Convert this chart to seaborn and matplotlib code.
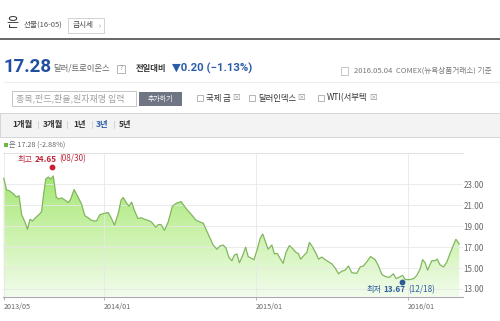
import numpy as np
import pandas as pd
import matplotlib
matplotlib.use("Agg")
import matplotlib.pyplot as plt
import seaborn as sns
import matplotlib.dates as mdates
from matplotlib.patches import Rectangle
from matplotlib.colors import LinearSegmentedColormap

# ---------------- data ----------------
start_date = "2013-05-06"
day_offsets = [0, 7, 13, 23, 30, 37, 43, 51, 57, 63,
               69, 79, 87, 91, 95, 101, 107, 113, 119, 126,
               131, 139, 147, 155, 161, 169, 177, 187, 195, 203,
               209, 217, 223, 231, 239, 251, 258, 266, 275, 282,
               287, 295, 301, 307, 314, 322, 331, 339, 347, 355,
               365, 371, 378, 386, 395, 405, 415, 426, 434, 442,
               451, 461, 471, 479, 487, 495, 503, 512, 519, 527,
               534, 541, 548, 554, 560, 566, 574, 581, 587, 596,
               601, 609, 616, 622, 630, 635, 644, 650, 657, 664,
               671, 678, 686, 694, 702, 708, 713, 721, 728, 734,
               742, 750, 756, 764, 772, 780, 788, 796, 804, 812,
               820, 828, 836, 848, 856, 864, 872, 881, 892, 900,
               908, 916, 926, 936, 942, 949, 958, 964, 976, 985,
               992, 1000, 1006, 1012, 1018, 1028, 1036, 1041, 1048, 1056,
               1064, 1072, 1078, 1086, 1094]
silver_price = [23.6, 22.45, 22.4, 22.1, 21.8, 21.9, 20.1, 19.4, 18.7, 19.65,
                19.5, 19.9, 20.2, 20.4, 21.8, 23.5, 23.7, 23.5, 23.8, 21.8,
                21.6, 21.7, 21.5, 21.25, 21.6, 22.5, 21.9, 21.1, 20.0, 19.8,
                19.6, 19.5, 19.5, 20.1, 20.2, 20.3, 19.8, 19.1, 20.2, 21.5,
                21.75, 21.2, 20.9, 21.3, 20.5, 19.75, 19.8, 19.65, 19.55, 19.4,
                18.9, 19.15, 19.15, 18.6, 19.4, 20.9, 21.2, 21.35, 20.9, 20.5,
                20.1, 19.6, 19.4, 19.3, 18.6, 17.9, 17.2, 16.8, 17.1, 17.2,
                16.9, 16.0, 15.7, 16.25, 16.35, 15.5, 16.2, 17.0, 16.1, 15.9,
                15.8, 16.8, 17.85, 18.25, 17.35, 16.8, 17.2, 16.35, 16.4, 15.9,
                15.45, 16.5, 17.15, 16.85, 16.5, 16.35, 15.85, 16.2, 16.5, 17.45,
                17.0, 16.4, 15.85, 16.05, 15.8, 15.6, 15.4, 15.0, 14.45, 14.7,
                14.8, 15.2, 14.55, 14.5, 15.1, 15.2, 15.6, 16.1, 15.8, 15.2,
                14.4, 14.2, 14.1, 14.45, 14.0, 14.1, 14.3, 13.9, 13.9, 14.0,
                14.3, 14.9, 15.8, 15.5, 14.8, 15.7, 15.7, 15.85, 15.3, 15.1,
                15.55, 16.4, 17.0, 17.75, 17.28]
high_date, high_value, high_label = "2013-08-30", 24.65, "(08/30)"
low_date, low_value, low_label = "2015-12-18", 13.67, "(12/18)"
y_ticks = [13, 15, 17, 19, 21, 23]
x_tick_dates = ["2013-05-06", "2014-01-01", "2015-01-01", "2016-01-01"]
x_tick_labels = ["2013/05", "2014/01", "2015/01", "2016/01"]
period_buttons = ["1개월", "3개월", "1년", "3년", "5년"]
selected_period = "3년"
compare_items = ["국제 금", "달러인덱스", "WTI(서부텍"]

# ---------------- style ----------------
sns.set_theme(style="white")
plt.rcParams["font.family"] = ["Noto Sans CJK KR", "DejaVu Sans"]

W, H = 500, 321
fig = plt.figure(figsize=(5.0, 3.21), dpi=100)
fig.patch.set_facecolor("white")

ui = fig.add_axes([0, 0, 1, 1])
ui.set_xlim(0, W)
ui.set_ylim(H, 0)
ui.axis("off")

BLUE = "#1f4f9e"
GRAY = "#666666"

# header row
ui.text(6, 24, "은", fontsize=9.5, color="#333333", va="center")
ui.text(24, 24.5, "선물(16-05)", fontsize=5.5, color="#555555", va="center")
ui.add_patch(Rectangle((68, 18), 36, 15, facecolor="white", edgecolor="#cccccc", lw=0.6))
ui.text(73, 25.5, "금시세", fontsize=5.5, color="#444444", va="center")
ui.text(98.5, 25.5, "›", fontsize=5, color="#888888", va="center")
ui.plot([0, W], [39, 39], color="#666666", lw=1.4, solid_capstyle="butt")

# price row
ui.text(3.5, 66.5, "17.28", fontsize=13.5, fontweight="bold", color=BLUE, va="center",
        family=["Roboto", "DejaVu Sans"])
ui.text(53.5, 68.5, "달러/트로이온스", fontsize=6, color=GRAY, va="center")
ui.add_patch(Rectangle((117, 64.5), 8, 8, facecolor="white", edgecolor="#aaaaaa", lw=0.6))
ui.text(121, 68.5, "?", fontsize=4.5, color="#888888", ha="center", va="center")
ui.text(136, 68.5, "전일대비", fontsize=6, fontweight="bold", color="#333333", va="center")
ui.text(172, 68.5, "▼0.20 (−1.13%)", fontsize=8.2, fontweight="bold", color="#2a5caa",
        va="center", family=["Roboto", "DejaVu Sans"])
ui.add_patch(Rectangle((341, 67), 7, 8, facecolor="white", edgecolor="#bbbbbb", lw=0.6))
ui.text(492, 71, "2016.05.04  COMEX(뉴욕상품거래소) 기준", fontsize=5.5, color="#777777",
        ha="right", va="center")
ui.plot([4, W], [82, 82], color="#eeeeee", lw=0.8)

# search row
ui.add_patch(Rectangle((12, 91), 124, 15, facecolor="white", edgecolor="#bbbbbb", lw=0.6))
ui.text(16, 98.5, "종목,펀드,환율,원자재명 입력", fontsize=6.5, color="#a0a0a0", va="center")
ui.add_patch(Rectangle((139, 92), 43, 14, facecolor="#6f7582", edgecolor="none"))
ui.text(160.5, 99, "추가하기", fontsize=5, color="white", ha="center", va="center")
cb_x = [197, 249, 318]
for cx, name in zip(cb_x, compare_items):
    ui.add_patch(Rectangle((cx, 95), 6, 6, facecolor="white", edgecolor="#aaaaaa", lw=0.6))
    t = ui.text(cx + 9, 98, name, fontsize=6, color="#333333", va="center")
    ui.annotate("⊠", xy=(1, 0.5), xycoords=t, xytext=(1.5, 0), textcoords="offset pixels",
                fontsize=5.5, color="#999999", va="center", ha="left")

# period bar
ui.add_patch(Rectangle((0, 113), W, 24, facecolor="#f3f3f3", edgecolor="#d5d5d5", lw=0.7))
period_x = [22.5, 53, 80, 102.5, 125]
for i, (px, lab) in enumerate(zip(period_x, period_buttons)):
    ui.text(px, 124.5, lab, fontsize=6, fontweight="bold",
            color="#2a5caa" if lab == selected_period else "#333333",
            ha="center", va="center")
    if i < len(period_buttons) - 1:
        sx = (px + period_x[i + 1]) / 2 + 0.5
        ui.plot([sx, sx], [121, 128], color="#cccccc", lw=0.6)

# legend
ui.add_patch(Rectangle((4, 142.5), 4, 4, facecolor="#66bb44", edgecolor="none"))
ui.text(9, 145, "은 17.28 (-2.88%)", fontsize=5.2, color=GRAY, va="center")

# ---------------- chart ----------------
ax = fig.add_axes([3 / W, 1 - 296.5 / H, 460 / W, 144 / H])
ax.set_facecolor("none")

df = pd.DataFrame({
    "date": pd.Timestamp(start_date) + pd.to_timedelta(day_offsets, unit="D"),
    "price": silver_price,
})
ymin, ymax = 12.28, 26.04
xmin = pd.Timestamp(start_date) - pd.Timedelta(days=1.7)
xmax = pd.Timestamp(start_date) + pd.Timedelta(days=1103)

sns.lineplot(data=df, x="date", y="price", ax=ax, color="#82b65e", lw=0.9, zorder=3)

poly = ax.fill_between(df["date"], df["price"], ymin, facecolor="none", edgecolor="none")
cmap = LinearSegmentedColormap.from_list("g", ["#f2fcec", "#c6f1a4", "#95e15f"])
grad = np.linspace(0, 1, 256).reshape(-1, 1)
x0n, x1n = mdates.date2num(xmin), mdates.date2num(xmax)
im = ax.imshow(grad, extent=[x0n, x1n, ymin, ymax], origin="lower", aspect="auto",
               cmap=cmap, zorder=1, interpolation="bilinear")
im.set_clip_path(poly.get_paths()[0], transform=ax.transData)

ax.set_xlim(xmin, xmax)
ax.set_ylim(ymin, ymax)

ax.yaxis.tick_right()
ax.set_yticks(y_ticks)
ax.set_yticklabels([f"{v:.2f}" for v in y_ticks])
ax.set_xticks(pd.to_datetime(x_tick_dates))
ax.set_xticklabels(x_tick_labels, ha="left")
ax.tick_params(axis="y", length=0, pad=0.5, labelsize=5.8, labelcolor="#666666")
ax.tick_params(axis="x", bottom=True, length=2.5, width=0.6, color="#aaaaaa", pad=2,
               labelsize=5.2, labelcolor="#666666")
ax.set_xlabel("")
ax.set_ylabel("")
ax.grid(True, color="#e8e8e8", lw=0.6)
ax.set_axisbelow("line")
for s in ["left", "right"]:
    ax.spines[s].set_visible(False)
ax.spines["top"].set_color("#dddddd")
ax.spines["top"].set_linewidth(0.6)
ax.spines["bottom"].set_color("#aaaaaa")
ax.spines["bottom"].set_linewidth(0.8)

# high / low markers
hd, ld = pd.Timestamp(high_date), pd.Timestamp(low_date)
ax.plot([hd], [high_value], "o", ms=3.2, color="#c8202f", zorder=5, clip_on=False)
ax.plot([ld], [low_value], "o", ms=3.2, color="#2b5c92", zorder=5, clip_on=False)


def mixed_label(xy, dx, dy, parts, color):
    prev = None
    for text, weight in parts:
        if prev is None:
            prev = ax.annotate(text, xy=xy, xytext=(dx, dy), textcoords="offset pixels",
                               ha="left", va="center", fontsize=5.9, color=color,
                               fontweight=weight, zorder=6)
        else:
            prev = ax.annotate(text, xy=(1, 0.5), xycoords=prev, xytext=(2, 0),
                               textcoords="offset pixels", ha="left", va="center",
                               fontsize=5.9, color=color, fontweight=weight, zorder=6)


mixed_label((hd, high_value), -34, 8,
            [("최고", "normal"), (f"{high_value:.2f}", "bold"), (high_label, "normal")], "#c0283a")
mixed_label((ld, low_value), -35, -7.5,
            [("최저", "normal"), (f"{low_value:.2f}", "bold"), (low_label, "normal")], "#2d5f9a")

fig.savefig("out.png", dpi=100)
